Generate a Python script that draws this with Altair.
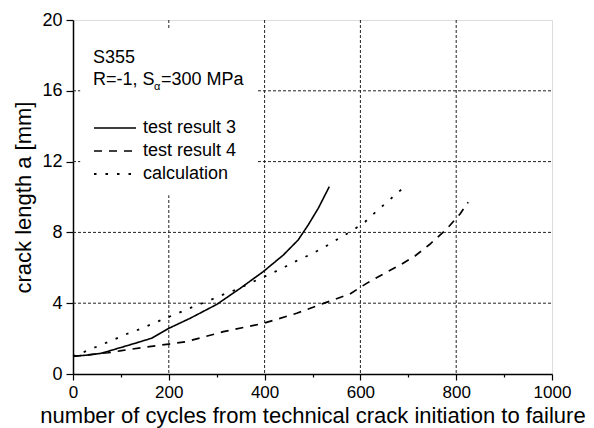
import altair as alt
import pandas as pd

# ---- data ----
series_names = ["test result 3", "test result 4", "calculation"]

n3 = [0, 31, 59, 94, 129, 164, 200, 244, 300, 349, 397, 439, 470, 491, 512, 535]
a3 = [1.0, 1.07, 1.17, 1.45, 1.73, 2.02, 2.58, 3.14, 3.93, 4.84, 5.78, 6.72, 7.57, 8.42, 9.36, 10.58]

n4 = [0, 73, 101, 149, 200, 237, 314, 397, 467, 523, 578, 613, 648, 683, 714, 745, 780, 808, 825]
a4 = [1.0, 1.2, 1.32, 1.51, 1.69, 1.83, 2.39, 2.86, 3.43, 3.99, 4.52, 5.12, 5.65, 6.16, 6.67, 7.33, 8.19, 9.04, 9.70]

nc = [0, 30, 58, 85, 112, 140, 168, 196, 223, 251, 279, 307, 335, 362, 387, 415, 443, 470, 498, 526,
      554, 582, 610, 635, 663, 691]
ac = [1.0, 1.32, 1.64, 1.94, 2.26, 2.54, 2.86, 3.18, 3.48, 3.80, 4.09, 4.42, 4.71, 5.03, 5.35, 5.69,
      6.06, 6.44, 6.78, 7.19, 7.64, 8.08, 8.60, 9.23, 9.89, 10.55]

grid_x = [200, 400, 600, 800]
grid_y = [4, 8, 12, 16]

x_ticks = list(range(0, 1001, 50))
y_ticks = list(range(0, 21, 1))

FONT = "Liberation Sans"

rows = []
for name, xs, ys in [(series_names[0], n3, a3), (series_names[1], n4, a4), (series_names[2], nc, ac)]:
    for i, (xv, yv) in enumerate(zip(xs, ys)):
        rows.append({"series": name, "n": xv, "a": yv, "i": i})
df = pd.DataFrame(rows)

xscale = alt.Scale(domain=[0, 1000], nice=False)
yscale = alt.Scale(domain=[0, 20], nice=False)

x_axis = alt.Axis(
    values=x_ticks, format="d",
    labelExpr="datum.value % 200 === 0 ? datum.label : ''",
    tickSize={"condition": {"test": "datum.value % 200 === 0", "value": 6}, "value": 3},
    grid=False, domainColor="black", domainWidth=1.5, tickColor="black", tickWidth=1.2,
    labelFontSize=17, labelColor="black", labelFont=FONT, labelPadding=4,
    title="number of cycles from technical crack initiation to failure",
    titleFontSize=22, titleFont=FONT, titleFontWeight="normal", titleColor="black", titlePadding=5,
    labelFlush=False,
)
y_axis = alt.Axis(
    values=y_ticks, format="d",
    labelExpr="datum.value % 4 === 0 ? datum.label : ''",
    tickSize={"condition": {"test": "datum.value % 4 === 0", "value": 7}, "value": 3},
    grid=False, domainColor="black", domainWidth=1.5, tickColor="black", tickWidth=1.2,
    labelFontSize=18, labelColor="black", labelFont=FONT, labelPadding=4,
    title="crack length a [mm]",
    titleFontSize=22, titleFont=FONT, titleFontWeight="normal", titleColor="black", titlePadding=6,
    labelFlush=False,
)

gx = alt.Chart(pd.DataFrame({"g": grid_x})).mark_rule(
    color="#222", strokeWidth=1, strokeDash=[3, 2]
).encode(x=alt.X("g:Q", scale=xscale, axis=x_axis), y=alt.value(0), y2=alt.value(354))

gy = alt.Chart(pd.DataFrame({"g": grid_y})).mark_rule(
    color="#222", strokeWidth=1, strokeDash=[3, 2]
).encode(y=alt.Y("g:Q", scale=yscale, axis=y_axis), x=alt.value(0), x2=alt.value(479))

# white box behind the annotation/legend (covers gridlines there)
mask = alt.Chart(pd.DataFrame({"x0": [15], "x1": [385], "y0": [10.1], "y1": [19.45]})).mark_rect(
    color="white"
).encode(x=alt.X("x0:Q", scale=xscale), x2="x1:Q", y=alt.Y("y0:Q", scale=yscale), y2="y1:Q")

lines = alt.Chart(df).mark_line(color="black").encode(
    x=alt.X("n:Q", scale=xscale),
    y=alt.Y("a:Q", scale=yscale),
    order="i:Q",
    strokeDash=alt.StrokeDash(
        "series:N",
        scale=alt.Scale(domain=series_names, range=[[1, 0], [8, 7], [2.5, 9]]),
        legend=alt.Legend(
            orient="none", legendX=20, legendY=97, title=None,
            symbolType="stroke", symbolSize=1764, symbolStrokeWidth=1.7,
            symbolStrokeColor="black", clipHeight=22, rowPadding=1,
            labelFontSize=18, labelFont=FONT, labelColor="black", labelOffset=6,
        ),
    ),
    strokeWidth=alt.StrokeWidth(
        "series:N", scale=alt.Scale(domain=series_names, range=[1.6, 1.8, 2.9]), legend=None
    ),
)

txt1 = alt.Chart(pd.DataFrame({"t": ["S355"]})).mark_text(
    align="left", baseline="alphabetic", fontSize=18, font=FONT, color="black"
).encode(text="t:N", x=alt.value(20), y=alt.value(43))
txt2 = alt.Chart(pd.DataFrame({"t": ["R=-1, S"]})).mark_text(
    align="left", baseline="alphabetic", fontSize=18, font=FONT, color="black"
).encode(text="t:N", x=alt.value(20), y=alt.value(65))
txt3 = alt.Chart(pd.DataFrame({"t": ["α"]})).mark_text(
    align="left", baseline="alphabetic", fontSize=11, font=FONT, color="black"
).encode(text="t:N", x=alt.value(81), y=alt.value(70))
txt4 = alt.Chart(pd.DataFrame({"t": ["=300 MPa"]})).mark_text(
    align="left", baseline="alphabetic", fontSize=18, font=FONT, color="black"
).encode(text="t:N", x=alt.value(88), y=alt.value(65))

chart = alt.layer(gx, gy, mask, lines, txt1, txt2, txt3, txt4).properties(
    width=479, height=354,
    autosize=alt.AutoSizeParams(type="none"),
    padding={"left": 65, "top": 12, "right": 34, "bottom": 54},
).configure_view(stroke="black", strokeWidth=1.5).configure(background="white")

chart.save("out.html", embed_options={"renderer": "svg", "actions": False})
